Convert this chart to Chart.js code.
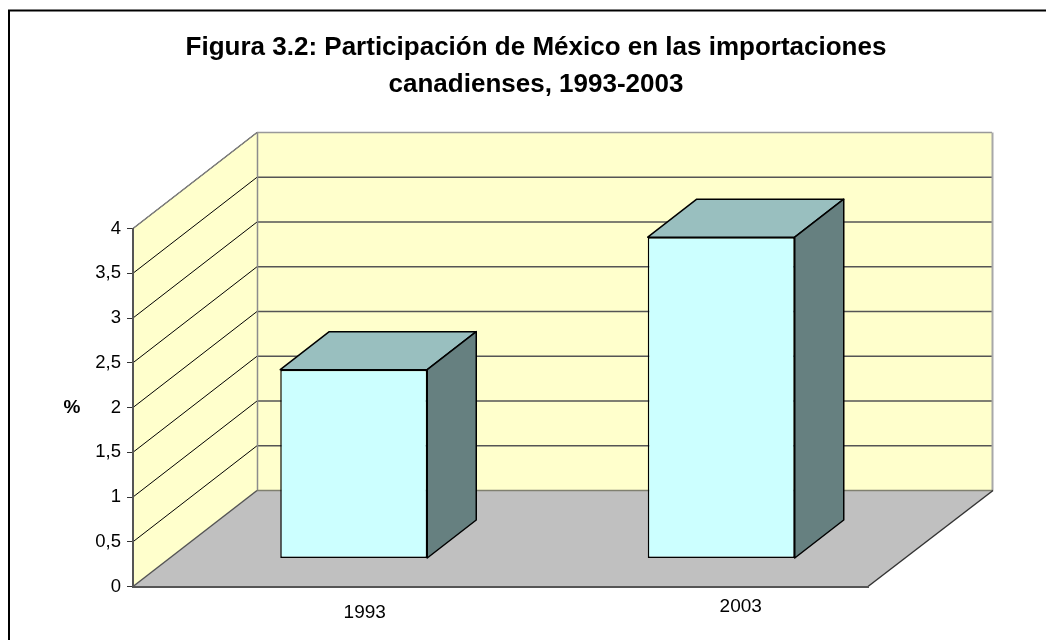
<!DOCTYPE html>
<html>
<head>
<meta charset="utf-8">
<script src="https://cdn.jsdelivr.net/npm/chart.js@4"></script>
<style>html,body{margin:0;padding:0;background:#fff}canvas{display:block}</style>
</head>
<body>
<canvas id="c" width="1046" height="640"></canvas>
<script>
const categories = ['1993', '2003'];
const participacion = [2.11, 3.59];
const titleLines = ['Figura 3.2: Participación de México en las importaciones', 'canadienses, 1993-2003'];
const yAxisLabel = '%';
const FONT = '"Liberation Sans", Arial, sans-serif';
const wall = [124, -96], barShift = [37, -28], barDepth = [49, -38];
const labelDropY = [6, 0], labelShiftX = [0, 8.5];

function poly(ctx, pts, fill, stroke, lw) {
  ctx.beginPath();
  pts.forEach((p, i) => i ? ctx.lineTo(p[0], p[1]) : ctx.moveTo(p[0], p[1]));
  ctx.closePath();
  if (fill) { ctx.fillStyle = fill; ctx.fill(); }
  if (stroke) { ctx.strokeStyle = stroke; ctx.lineWidth = lw || 1; ctx.stroke(); }
}
function seg(ctx, x1, y1, x2, y2, c, lw) {
  ctx.beginPath(); ctx.moveTo(x1, y1); ctx.lineTo(x2, y2);
  ctx.strokeStyle = c; ctx.lineWidth = lw || 1; ctx.stroke();
}

const box3d = {
  id: 'box3d',
  afterLayout(chart) {
    chart.titleBlock.left = 0;
    chart.titleBlock.right = 1072;
  },
  beforeDraw(chart) {
    const { ctx, chartArea: a, scales } = chart;
    const [dx, dy] = wall;
    ctx.save();
    // page frame
    seg(ctx, 8, 10.5, 1046, 10.5, '#000', 2);
    seg(ctx, 9, 10, 9, 640, '#000', 2);
    // walls and floor
    poly(ctx, [[a.left, a.bottom], [a.left, a.top], [a.left + dx, a.top + dy], [a.left + dx, a.bottom + dy]], '#FFFFCC');
    ctx.fillStyle = '#FFFFCC';
    ctx.fillRect(a.left + dx, a.top + dy, a.right - a.left, a.bottom - a.top);
    poly(ctx, [[a.left, a.bottom], [a.left + dx, a.bottom + dy], [a.right + dx + 1, a.bottom + dy], [a.right, a.bottom]], '#C0C0C0');
    // gridlines
    scales.y.ticks.forEach(t => {
      const y = scales.y.getPixelForValue(t.value);
      if (t.value > 0) seg(ctx, a.left, y, a.left + dx, y + dy, '#000');
      if (t.value > 0 && t.value < 4) seg(ctx, a.left + dx, y + dy, a.right + dx, y + dy, '#555', 1.5);
    });
    // edges
    seg(ctx, a.left, a.top, a.left + dx, a.top + dy, '#808080', 1.5);
    seg(ctx, a.left + dx, a.top + dy, a.right + dx, a.top + dy, '#999', 1.5);
    seg(ctx, a.left + dx + .5, a.top + dy, a.left + dx + .5, a.bottom + dy, '#8c8c8c', 1.5);
    seg(ctx, a.right + dx + .5, a.top + dy, a.right + dx + .5, a.bottom + dy, '#a8a8a8', 2);
    seg(ctx, a.left + dx, a.bottom + dy, a.right + dx + 1, a.bottom + dy, '#808070', 1.5);
    seg(ctx, a.left, a.bottom, a.left + dx, a.bottom + dy, '#555', 1.5);
    seg(ctx, a.right, a.bottom, a.right + dx + 1, a.bottom + dy, '#333', 1.5);
    // uneven category label positions
    scales.x.getLabelItems().forEach((it, i) => {
      it.options.translation[0] += labelShiftX[i];
      it.options.translation[1] += labelDropY[i];
    });
    ctx.restore();
  },
  beforeDatasetDraw(chart, args) {
    const { ctx } = chart;
    const [bx, by] = barShift, [dx, dy] = barDepth;
    ctx.save();
    ctx.translate(bx, by);
    args.meta.data.forEach(b => {
      const l = b.x - b.width / 2, r = b.x + b.width / 2, t = b.y, bt = b.base;
      ctx.lineJoin = 'round';
      poly(ctx, [[l, t], [l + dx, t + dy], [r + dx, t + dy], [r, t]], '#99BFBF', '#000', 1.5);
      poly(ctx, [[r, t], [r + dx, t + dy], [r + dx, bt + dy], [r, bt]], '#668080', '#000', 1.5);
    });
  },
  afterDatasetDraw(chart) { chart.ctx.restore(); },
  afterDraw(chart) {
    const { ctx } = chart;
    ctx.save();
    ctx.fillStyle = '#000';
    ctx.font = 'bold 19px ' + FONT;
    ctx.textAlign = 'center';
    ctx.textBaseline = 'middle';
    ctx.fillText(yAxisLabel, 72, 408);
    ctx.restore();
  }
};

new Chart(document.getElementById('c'), {
  type: 'bar',
  data: {
    labels: categories,
    datasets: [{
      label: 'Participación',
      data: participacion,
      backgroundColor: '#CCFFFF',
      borderColor: '#000',
      borderWidth: 1.5,
      borderSkipped: false,
      categoryPercentage: 1,
      barPercentage: 0.4
    }]
  },
  plugins: [box3d],
  options: {
    responsive: false,
    animation: false,
    layout: { autoPadding: false, padding: { left: 0, right: 178, top: 0, bottom: 0 } },
    plugins: {
      legend: { display: false },
      tooltip: { enabled: false },
      title: {
        display: true,
        text: titleLines,
        color: '#000',
        font: { family: FONT, size: 26, weight: 'bold', lineHeight: 37 / 26 },
        padding: { top: 29, bottom: 125.5 }
      }
    },
    scales: {
      x: {
        grid: { display: false },
        border: { color: '#555', width: 2 },
        ticks: { color: '#000', font: { family: FONT, size: 19 }, labelOffset: 48, padding: 1, maxRotation: 0 },
        afterFit(s) { s.height = 53.5; }
      },
      y: {
        min: 0, max: 4,
        grid: { drawOnChartArea: false, color: '#333', tickLength: 6 },
        border: { color: '#555', width: 2 },
        ticks: {
          stepSize: 0.5, color: '#000', padding: 6,
          font: { family: FONT, size: 18.5 },
          callback: v => String(v).replace('.', ',')
        },
        afterFit(s) { s.width = 133; }
      }
    }
  }
});
</script>
</body>
</html>
